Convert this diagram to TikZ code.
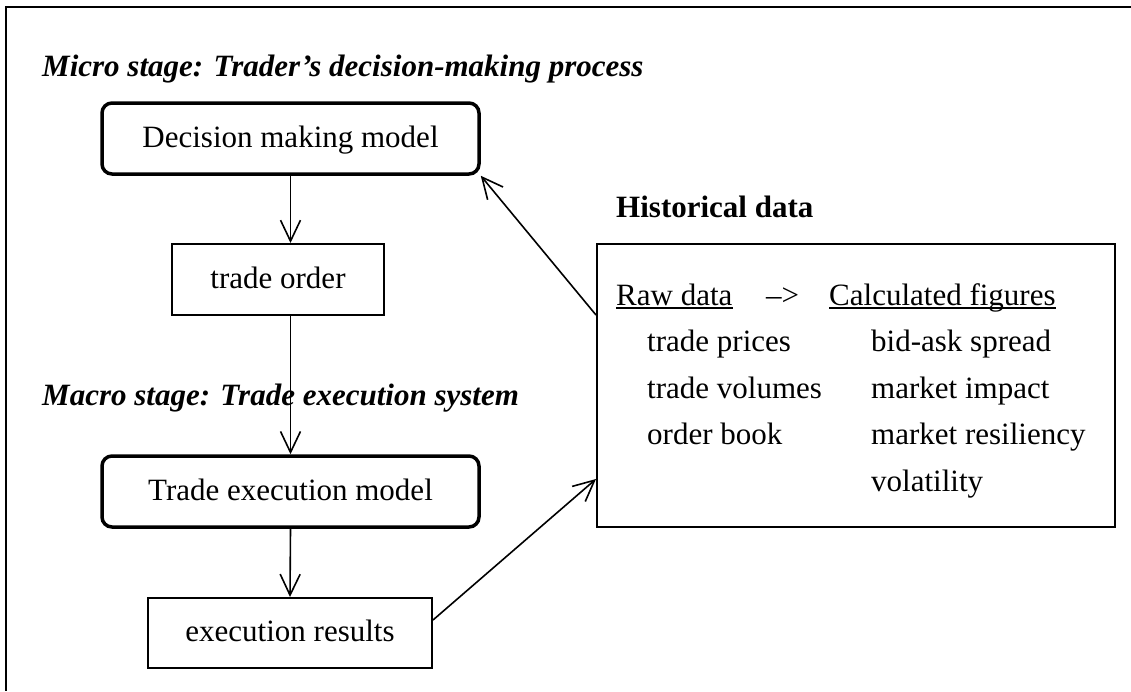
\documentclass[tikz,border=0pt]{standalone}
\usepackage{fontspec}
\setmainfont{Liberation Serif}
\usetikzlibrary{arrows.meta}
\begin{document}
\begin{tikzpicture}[x=1pt,y=-1pt,
  every node/.style={font=\fontsize{31}{37}\selectfont, inner sep=0pt},
  model/.style={draw, line width=3.5pt, rounded corners=10pt,
    minimum width=377pt, minimum height=71pt, text height=21pt, text depth=4pt},
  plainbox/.style={draw, line width=2pt, minimum height=71pt,
    text height=21pt, text depth=4pt},
  heading/.style={anchor=base west, font=\fontsize{31}{37}\selectfont\bfseries\itshape},
  item/.style={anchor=base west},
  uline/.style={line width=1.5pt},
  flow/.style={line width=1.6pt, -{Straight Barb[length=21pt,width=20pt]}},
]
\useasboundingbox (0,0) rectangle (1131,691);

% frame along the top and left edges
\draw[line width=2pt] (1131,7) -- (6,7) -- (6,691);

% micro stage
\node[heading] (micro) at (42,76) {Micro stage: Trader's decision-making process};
\node[model] (dec) at (290.5,138.5) {Decision making model};
\node[plainbox, minimum width=212pt] (ord) at (278,279.5) {trade order};

% macro stage
\node[heading] (macro) at (42,405) {Macro stage: Trade execution system};
\node[model] (exe) at (290.5,491.5) {Trade execution model};
\node[plainbox, minimum width=284pt, minimum height=70pt] (res) at (290,633) {execution results};

% historical data panel
\node[anchor=base west, font=\fontsize{31}{37}\selectfont\bfseries] (histtitle) at (616,217) {Historical data};
\node[draw, line width=2pt, minimum width=518pt, minimum height=283pt] (hist) at (856,385.5) {};

\node[item] (raw) at (616,305) {Raw data};
\node[item] (to) at (766,305) {\textendash{}>};
\node[item] (calc) at (829,305) {Calculated figures};
\draw[uline] ([yshift=-3pt]raw.base west) -- ([yshift=-3pt]raw.base east);
\draw[uline] ([yshift=-3pt]calc.base west) -- ([yshift=-3pt]calc.base east);

\node[item] (r1) at (647,351.5) {trade prices};
\node[item] (r2) at (647,398) {trade volumes};
\node[item] (r3) at (647,444.5) {order book};

\node[item] (c1) at (871,351.5) {bid-ask spread};
\node[item] (c2) at (871,398) {market impact};
\node[item] (c3) at (871,444.5) {market resiliency};
\node[item] (c4) at (871,491) {volatility};

% connectors
\draw[flow] (dec.south) -- (dec.south |- ord.north);
\draw[flow] (ord.south -| exe.north) -- (exe.north);
\draw[flow] (exe.south) -- (res.north);
\draw[flow] ([yshift=70.5pt]hist.west) -- (dec.south east);
\draw[flow] ([yshift=13pt]res.east) -- ([yshift=-93.5pt]hist.west);
\end{tikzpicture}
\end{document}
